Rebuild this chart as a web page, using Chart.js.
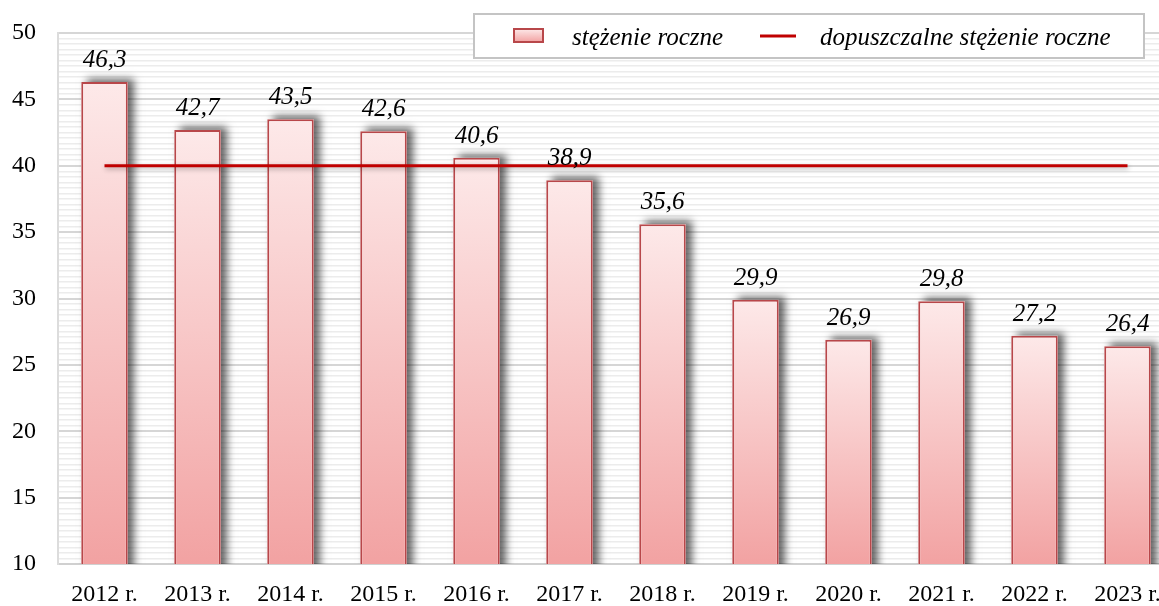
<!DOCTYPE html>
<html>
<head>
<meta charset="utf-8">
<script src="https://cdn.jsdelivr.net/npm/chart.js@4.4.1/dist/chart.umd.min.js"></script>
<style>
html,body{margin:0;padding:0;background:#fff;overflow:hidden;}
#wrap{position:relative;width:1174px;height:606px;}
</style>
</head>
<body>
<div id="wrap"><canvas id="c"></canvas></div>
<script>
const categories = ['2012 r.','2013 r.','2014 r.','2015 r.','2016 r.','2017 r.','2018 r.','2019 r.','2020 r.','2021 r.','2022 r.','2023 r.'];
const annualConcentration = [46.3, 42.7, 43.5, 42.6, 40.6, 38.9, 35.6, 29.9, 26.9, 29.8, 27.2, 26.4];
const permittedConcentration = [40, 40, 40, 40, 40, 40, 40, 40, 40, 40, 40, 40];
const seriesNames = ['stężenie roczne', 'dopuszczalne stężenie roczne'];
const yMin = 10, yMax = 50, yMajorStep = 5, yMinorPerMajor = 12;

const FONT = '"Liberation Serif", "DejaVu Serif", serif';
const BAR_TOP = '#fde9e9', BAR_BOTTOM = '#f2a2a2', BAR_BORDER = '#b8474a', LINE_COLOR = '#c00000';

function barGradient(ctx) {
  const chart = ctx.chart;
  if (!chart.chartArea || ctx.type !== 'data') return BAR_BOTTOM;
  const ys = chart.scales.y;
  const top = ys.getPixelForValue(ctx.raw);
  const bottom = ys.getPixelForValue(yMin);
  const g = chart.ctx.createLinearGradient(0, top, 0, bottom);
  g.addColorStop(0, BAR_TOP);
  g.addColorStop(1, BAR_BOTTOM);
  return g;
}

const shadowPlugin = {
  id: 'shadows',
  beforeDatasetDraw(chart, args) {
    const c = chart.ctx;
    if (args.index === 0) {
      const a = chart.chartArea;
      c.save();
      c.beginPath();
      c.rect(a.left, 0, a.right - a.left, a.bottom);
      c.clip();
      c.shadowColor = 'rgba(0,0,0,0.6)';
      c.shadowBlur = 8;
      c.shadowOffsetX = 6;
      c.shadowOffsetY = -3;
      c.fillStyle = '#ffffff';
      args.meta.data.forEach((bar) => {
        const p = bar.getProps(['x', 'y', 'base', 'width'], true);
        c.fillRect(p.x - p.width / 2, p.y, p.width, p.base - p.y);
      });
      c.restore();
      c.save();
    } else {
      c.save();
      c.shadowColor = 'rgba(0,0,0,0.3)';
      c.shadowBlur = 5;
      c.shadowOffsetX = 1;
      c.shadowOffsetY = 2;
    }
  },
  afterDatasetDraw(chart) { chart.ctx.restore(); }
};

const labelsPlugin = {
  id: 'valueLabels',
  afterDatasetsDraw(chart) {
    const c = chart.ctx;
    const meta = chart.getDatasetMeta(0);
    c.save();
    c.font = 'italic 25px ' + FONT;
    c.fillStyle = '#000';
    c.textAlign = 'center';
    c.textBaseline = 'alphabetic';
    meta.data.forEach((bar, i) => {
      const v = chart.data.datasets[0].data[i];
      c.fillText(v.toFixed(1).replace('.', ','), bar.x, bar.y - 15);
    });
    c.restore();
  }
};

const legendPlugin = {
  id: 'boxLegend',
  afterDraw(chart) {
    const c = chart.ctx;
    const x0 = 474, y0 = 14, w = 670, h = 44;
    c.save();
    c.fillStyle = '#fff';
    c.fillRect(x0, y0, w, h);
    c.strokeStyle = '#c4c4c4';
    c.lineWidth = 2;
    c.strokeRect(x0, y0, w, h);
    const g = c.createLinearGradient(0, 29, 0, 42);
    g.addColorStop(0, BAR_TOP); g.addColorStop(1, BAR_BOTTOM);
    c.fillStyle = g;
    c.fillRect(514, 29, 29, 13);
    c.strokeStyle = BAR_BORDER; c.lineWidth = 2;
    c.strokeRect(514, 29, 29, 13);
    c.font = 'italic 25px ' + FONT;
    c.fillStyle = '#000';
    c.textBaseline = 'alphabetic';
    c.textAlign = 'left';
    c.fillText(seriesNames[0], 572, 45);
    c.strokeStyle = LINE_COLOR; c.lineWidth = 3;
    c.beginPath(); c.moveTo(760, 36); c.lineTo(796, 36); c.stroke();
    c.fillText(seriesNames[1], 820, 45);
    c.restore();
  }
};

function isMajor(v) { return Math.abs(v / yMajorStep - Math.round(v / yMajorStep)) < 1e-6; }

new Chart(document.getElementById('c'), {
  data: {
    labels: categories,
    datasets: [
      {
        type: 'bar',
        label: seriesNames[0],
        data: annualConcentration,
        backgroundColor: barGradient,
        borderColor: BAR_BORDER,
        borderWidth: 2,
        borderSkipped: false,
        categoryPercentage: 1.0,
        barPercentage: 0.5,
        order: 2
      },
      {
        type: 'line',
        label: seriesNames[1],
        data: permittedConcentration,
        borderColor: LINE_COLOR,
        borderWidth: 3,
        pointRadius: 0,
        pointHoverRadius: 0,
        fill: false,
        order: 1
      }
    ]
  },
  options: {
    responsive: true,
    maintainAspectRatio: false,
    animation: false,
    layout: { padding: { top: 33, left: 0, right: 0, bottom: 0 } },
    plugins: { legend: { display: false }, tooltip: { enabled: false } },
    scales: {
      x: {
        grid: { display: false, drawTicks: false },
        border: { display: true, color: '#d0d0d0', width: 2 },
        ticks: { color: '#000', font: { family: FONT, size: 24 }, padding: 16, maxRotation: 0, autoSkip: false },
        afterFit(s) { s.height = 42; s.paddingLeft = 0; s.paddingRight = 0; }
      },
      y: {
        min: yMin, max: yMax,
        border: { display: true, color: '#dcdcdc', width: 2 },
        grid: {
          drawTicks: false,
          color: (ctx) => isMajor(ctx.tick.value) ? '#d6d6d6' : '#ececec',
          lineWidth: (ctx) => isMajor(ctx.tick.value) ? 2 : 1.5
        },
        ticks: {
          stepSize: yMajorStep / yMinorPerMajor,
          maxTicksLimit: 1000,
          autoSkip: false,
          color: '#000',
          font: { family: FONT, size: 24 },
          padding: 22,
          callback: (v) => isMajor(v) ? String(Math.round(v)) : ''
        },
        afterFit(s) { s.width = 58; s.paddingTop = 0; s.paddingBottom = 0; }
      }
    }
  },
  plugins: [shadowPlugin, labelsPlugin, legendPlugin]
});
</script>
</body>
</html>
